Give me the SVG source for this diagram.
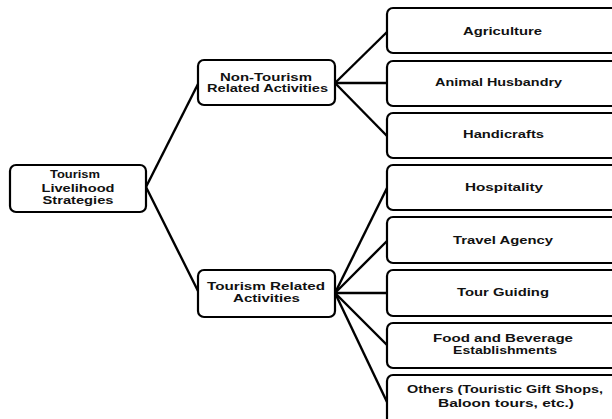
<svg xmlns="http://www.w3.org/2000/svg" width="612" height="419" viewBox="0 0 612 419">
<style>
.box{fill:#fff;stroke:#000;stroke-width:2.2}
.t{font-family:"Liberation Sans",Arial,sans-serif;font-weight:bold;font-size:11px;fill:#111;text-anchor:middle}
.c{stroke:#000;stroke-width:2.4;fill:none}
</style>
<rect width="612" height="419" fill="#fff"/>
<g id="connectors">
<line class="c" x1="146" y1="187" x2="198" y2="84"/>
<line class="c" x1="146" y1="187" x2="198" y2="291"/>
<line class="c" x1="335" y1="83" x2="387" y2="32"/>
<line class="c" x1="335" y1="83" x2="387" y2="83"/>
<line class="c" x1="335" y1="83" x2="387" y2="136"/>
<line class="c" x1="335" y1="293" x2="387" y2="188"/>
<line class="c" x1="335" y1="293" x2="387" y2="241"/>
<line class="c" x1="335" y1="293" x2="387" y2="293"/>
<line class="c" x1="335" y1="293" x2="387" y2="345"/>
<line class="c" x1="335" y1="293" x2="387" y2="402"/>
</g>
<g id="root">
<rect class="box" x="10" y="165" width="136" height="47" rx="6"/>
<text class="t" x="75" y="178" textLength="50" lengthAdjust="spacingAndGlyphs">Tourism</text>
<text class="t" x="78" y="191.5" textLength="73" lengthAdjust="spacingAndGlyphs">Livelihood</text>
<text class="t" x="78" y="204" textLength="71" lengthAdjust="spacingAndGlyphs">Strategies</text>
</g>
<g id="non-tourism">
<rect class="box" x="198" y="60" width="137" height="45" rx="6"/>
<text class="t" x="266" y="81" textLength="92" lengthAdjust="spacingAndGlyphs">Non-Tourism</text>
<text class="t" x="267.5" y="92" textLength="121" lengthAdjust="spacingAndGlyphs">Related Activities</text>
</g>
<g id="tourism">
<rect class="box" x="198" y="270" width="137" height="47" rx="6"/>
<text class="t" x="266" y="290" textLength="118" lengthAdjust="spacingAndGlyphs">Tourism Related</text>
<text class="t" x="266.5" y="302" textLength="67" lengthAdjust="spacingAndGlyphs">Activities</text>
</g>
<g id="agriculture">
<rect class="box" x="387" y="8" width="232" height="45" rx="6"/>
<text class="t" x="502.5" y="34.5" textLength="79" lengthAdjust="spacingAndGlyphs">Agriculture</text>
</g>
<g id="animal-husbandry">
<rect class="box" x="387" y="61" width="232" height="45" rx="6"/>
<text class="t" x="498.5" y="86" textLength="127" lengthAdjust="spacingAndGlyphs">Animal Husbandry</text>
</g>
<g id="handicrafts">
<rect class="box" x="387" y="113" width="232" height="45" rx="6"/>
<text class="t" x="503.5" y="138" textLength="81" lengthAdjust="spacingAndGlyphs">Handicrafts</text>
</g>
<g id="hospitality">
<rect class="box" x="387" y="165" width="232" height="45" rx="6"/>
<text class="t" x="504" y="190.5" textLength="78" lengthAdjust="spacingAndGlyphs">Hospitality</text>
</g>
<g id="travel-agency">
<rect class="box" x="387" y="217" width="232" height="46" rx="6"/>
<text class="t" x="503" y="244" textLength="100" lengthAdjust="spacingAndGlyphs">Travel Agency</text>
</g>
<g id="tour-guiding">
<rect class="box" x="387" y="270" width="232" height="46" rx="6"/>
<text class="t" x="503" y="296" textLength="92" lengthAdjust="spacingAndGlyphs">Tour Guiding</text>
</g>
<g id="food-beverage">
<rect class="box" x="387" y="323" width="232" height="45" rx="6"/>
<text class="t" x="503" y="342" textLength="140" lengthAdjust="spacingAndGlyphs">Food and Beverage</text>
<text class="t" x="505" y="354" textLength="104" lengthAdjust="spacingAndGlyphs">Establishments</text>
</g>
<g id="others">
<rect class="box" x="387" y="375" width="232" height="50" rx="6"/>
<text class="t" x="505" y="393" textLength="196" lengthAdjust="spacingAndGlyphs">Others (Touristic Gift Shops,</text>
<text class="t" x="506" y="407" textLength="136" lengthAdjust="spacingAndGlyphs">Baloon tours, etc.)</text>
</g>
</svg>
